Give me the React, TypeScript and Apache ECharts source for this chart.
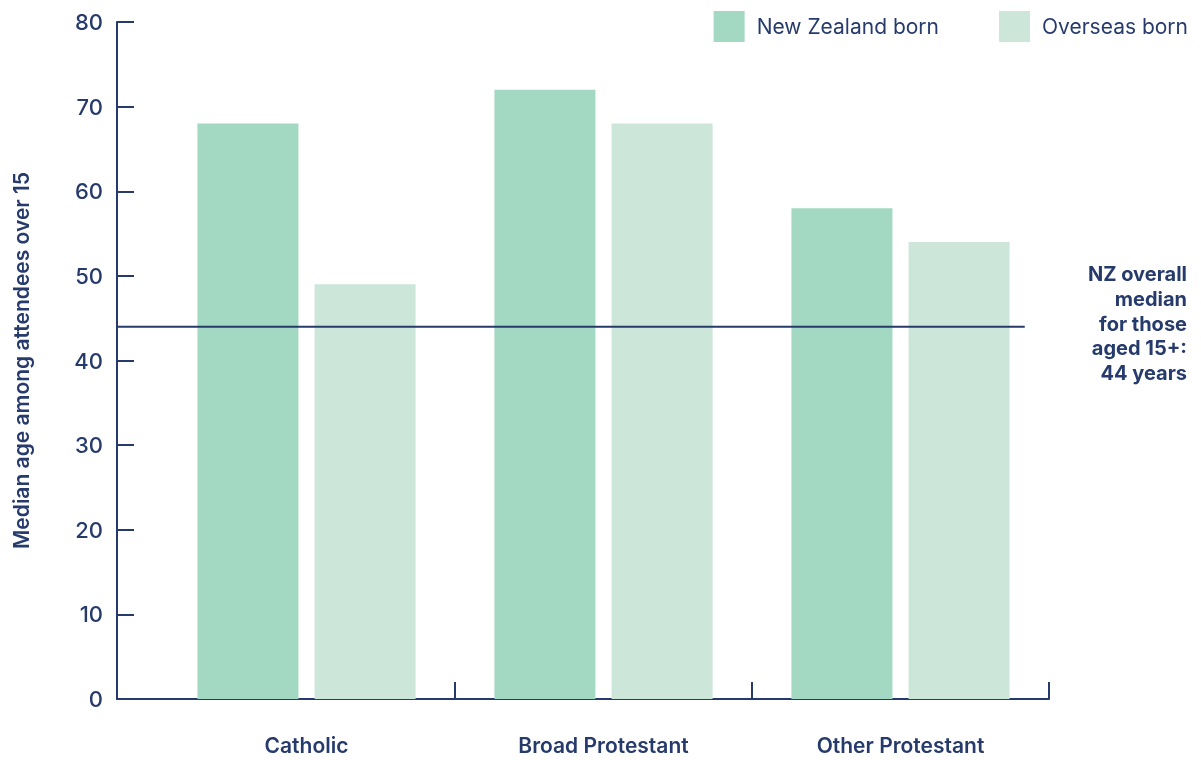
import React, { useEffect, useRef } from "react";
import * as echarts from "echarts";

const categories = ["Catholic", "Broad Protestant", "Other Protestant"];
const nzBorn = [68, 72, 58];
const overseasBorn = [49, 68, 54];
const seriesNames = ["New Zealand born", "Overseas born"];
const overallMedian = 44;
// horizontal extent of the overall-median rule, as a share of the frame width
const medianSpan = [0, 97.4];
const yTicks = { min: 0, max: 80, interval: 10 };
const noteLines = ["NZ overall", "median", "for those", "aged 15+:", `${overallMedian} years`];

const NAVY = "#263b6c";
const FONT = "Inter, 'Noto Sans', sans-serif";

export default function App() {
  const ref = useRef<HTMLDivElement>(null);

  useEffect(() => {
    if (!ref.current) return;
    const chart = echarts.init(ref.current, undefined, { renderer: "svg" });
    chart.setOption({
      animation: false,
      textStyle: { fontFamily: FONT, color: NAVY },
      legend: {
        data: seriesNames,
        right: 8,
        top: 6,
        itemWidth: 31,
        itemHeight: 31,
        itemGap: 60,
        icon: "rect",
        textStyle: { fontFamily: FONT, fontSize: 21, color: NAVY, padding: [0, 0, 0, 7] },
      },
      grid: [
        { left: 158, right: 152, top: 22, bottom: 61, outerBoundsMode: "none" },
        { left: 117, right: 152, top: 22, bottom: 61, outerBoundsMode: "none" },
      ],
      xAxis: [
        {
          type: "category",
          gridIndex: 0,
          data: categories,
          axisLine: { show: false },
          axisTick: {
            show: true,
            inside: true,
            length: 17,
            interval: (index: number) => index !== 0,
            lineStyle: { color: NAVY, width: 2 },
          },
          axisLabel: {
            margin: 36,
            fontSize: 21,
            fontWeight: 600,
            color: NAVY,
            fontFamily: FONT,
          },
        },
        {
          type: "value",
          gridIndex: 1,
          min: 0,
          max: 100,
          axisLine: { show: true, lineStyle: { color: NAVY, width: 2 } },
          axisTick: { show: false },
          axisLabel: { show: false },
          splitLine: { show: false },
        },
      ],
      yAxis: [
        {
          type: "value",
          gridIndex: 0,
          min: yTicks.min,
          max: yTicks.max,
          interval: yTicks.interval,
          offset: 41,
          name: "Median age among attendees over 15",
          nameLocation: "middle",
          nameGap: 85,
          nameTextStyle: { fontSize: 21, fontWeight: 600, color: NAVY, fontFamily: FONT },
          axisLine: { show: true, lineStyle: { color: NAVY, width: 2 } },
          axisTick: { show: true, inside: true, length: 17, lineStyle: { color: NAVY, width: 2 } },
          axisLabel: { margin: 14, fontSize: 22, fontWeight: 500, color: NAVY, fontFamily: FONT },
          splitLine: { show: false },
        },
        {
          type: "value",
          gridIndex: 1,
          min: yTicks.min,
          max: yTicks.max,
          show: false,
        },
      ],
      series: [
        {
          name: seriesNames[0],
          type: "bar",
          xAxisIndex: 0,
          yAxisIndex: 0,
          data: nzBorn,
          barWidth: 101,
          barGap: "16%",
          itemStyle: { color: "#a3d8c2" },
        },
        {
          name: seriesNames[1],
          type: "bar",
          xAxisIndex: 0,
          yAxisIndex: 0,
          data: overseasBorn,
          barWidth: 101,
          barGap: "16%",
          itemStyle: { color: "#cde6da" },
        },
        {
          name: "NZ overall median",
          type: "line",
          xAxisIndex: 1,
          yAxisIndex: 1,
          data: medianSpan.map((x) => [x, overallMedian]),
          symbol: "none",
          z: 5,
          lineStyle: { color: NAVY, width: 2 },
        },
      ],
      graphic: [
        {
          type: "text",
          x: 1187,
          y: 262,
          style: {
            text: noteLines.join("\n"),
            align: "right",
            verticalAlign: "top",
            font: `700 20px ${FONT}`,
            lineHeight: 24.7,
            fill: NAVY,
          },
        },
      ],
    });
    return () => chart.dispose();
  }, []);

  return (
    <div
      ref={ref}
      style={{ position: "fixed", left: 0, top: 0, width: 1201, height: 760 }}
    />
  );
}
